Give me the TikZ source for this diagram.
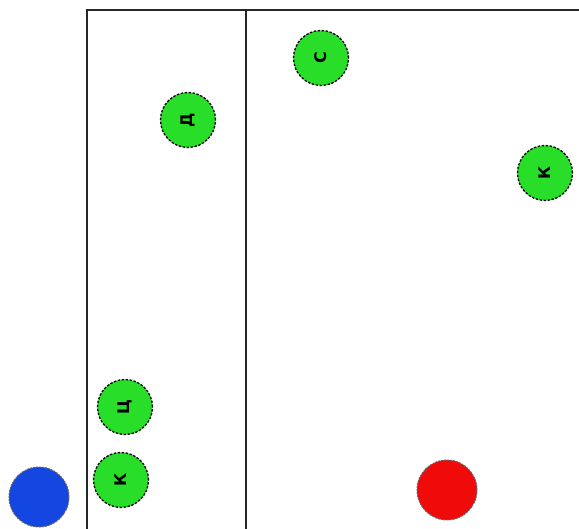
\documentclass[tikz,border=0pt]{standalone}
\usepackage{fontspec}
\newfontfamily\cyrfont{DejaVu Sans}
\definecolor{ballgreen}{RGB}{40,222,40}
\definecolor{ballblue}{RGB}{20,70,225}
\definecolor{ballred}{RGB}{240,10,10}
\begin{document}
\begin{tikzpicture}[x=1pt,y=-1pt,
  gball/.style={circle,fill=ballgreen,draw=black,dash pattern=on 2.5pt off 1.5pt,line width=1.3pt,minimum size=55pt,inner sep=0pt,font=\cyrfont\bfseries\fontsize{16}{16}\selectfont,text=black},
  ball/.style={circle,draw=black!60,dash pattern=on 2pt off 1pt,line width=1pt,minimum size=60pt,inner sep=0pt},
  frame/.style={draw=black!85,line width=1.4pt}]
\useasboundingbox (0,0) rectangle (579,529);
\fill[white] (0,0) rectangle (579,529);
\coordinate (tl) at (87,10);
\coordinate (tr) at (579,10);
\coordinate (bl) at (87,529);
\coordinate (tm) at (246,10);
\coordinate (bm) at (246,529);
\draw[frame] (bl) -- (tl) -- (tr);
\draw[frame] (tm) -- (bm);
\node[gball] (d) at (188,120) {\rotatebox{90}{Д}};
\node[gball] (s) at (321,58) {\rotatebox{90}{С}};
\node[gball] (k1) at (545,173) {\rotatebox{90}{К}};
\node[gball] (ts) at (125,407) {\rotatebox{90}{Ц}};
\node[gball] (k2) at (121,480) {\rotatebox{90}{К}};
\node[ball,fill=ballblue] (blue) at (39,497) {};
\node[ball,fill=ballred] (red) at (447,490) {};
\end{tikzpicture}
\end{document}
